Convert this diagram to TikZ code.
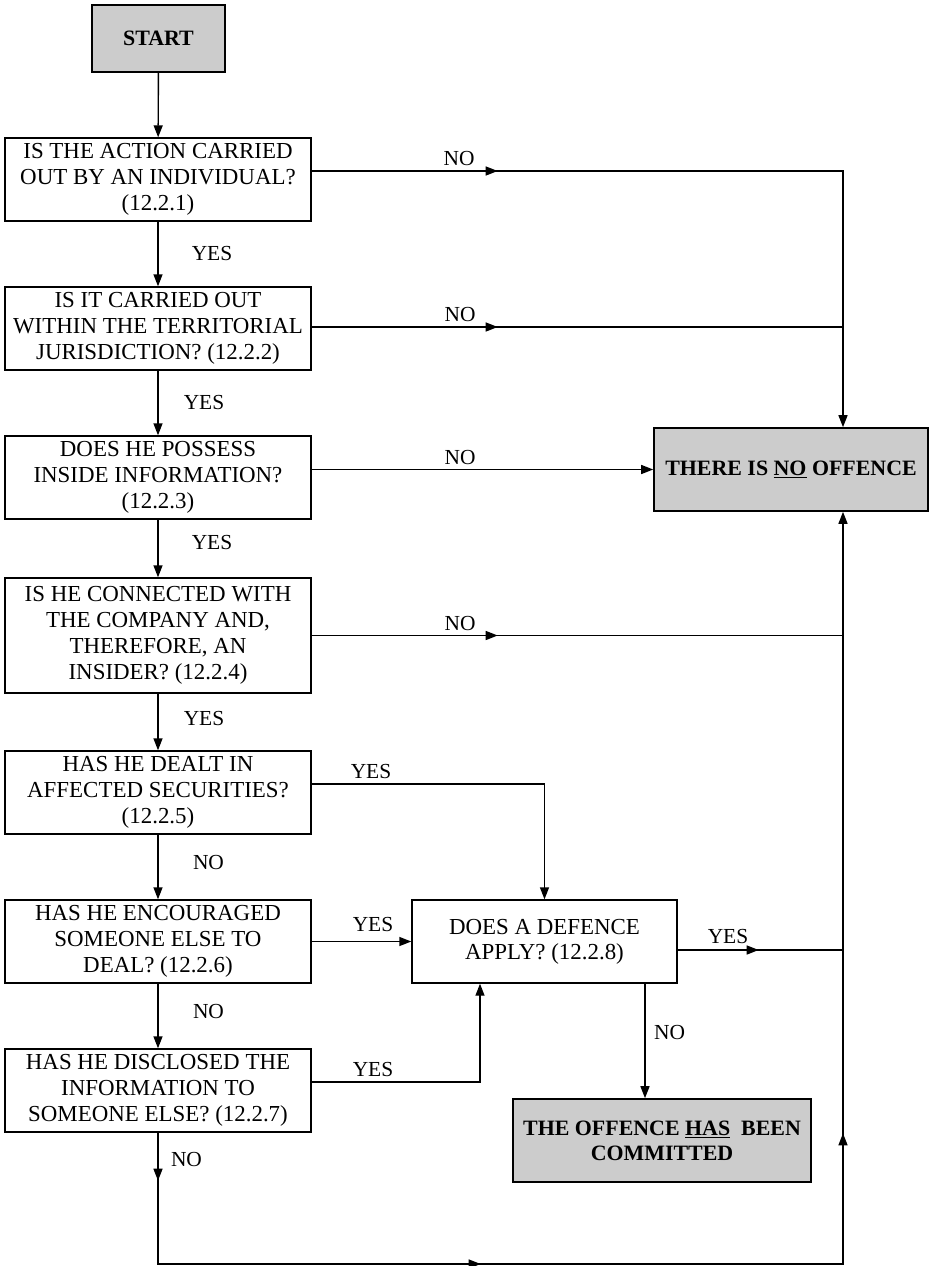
\documentclass[tikz,border=0pt]{standalone}
\usepackage{fontspec}
\setmainfont{Liberation Serif}
\usetikzlibrary{arrows.meta,decorations.markings,calc}

\tikzset{
  >={Triangle[length=12bp,width=9bp]},
  qbox/.style={draw, line width=1.4bp, minimum width=306bp, minimum height=83bp,
    align=center, inner sep=2bp, font=\fontsize{23}{26}\selectfont},
  endbox/.style={draw, fill=gray!40, line width=1.6bp, minimum height=83bp,
    align=center, inner sep=2bp, font=\fontsize{22}{25}\selectfont\bfseries},
  wire/.style={line width=1.4bp},
  lbl/.style={font=\fontsize{21.5}{24}\selectfont, inner sep=0pt},
  midtip/.style={postaction={decorate},
    decoration={markings, mark=at position #1 with {\arrow{>}}}},
}

\begin{document}
\begin{tikzpicture}[x=1bp, y=-1bp]
\useasboundingbox (0,0) rectangle (931,1266);

% ---- decision boxes ----
\node[endbox, minimum width=133bp, minimum height=67bp] (start) at (158.5,38.5) {START};
\node[qbox] (q1) at (158,179.5) {IS THE ACTION CARRIED\\OUT BY AN INDIVIDUAL?\\(12.2.1)};
\node[qbox] (q2) at (158,328.5) {IS IT CARRIED OUT\\WITHIN THE TERRITORIAL\\JURISDICTION? (12.2.2)};
\node[qbox] (q3) at (158,477.5) {DOES HE POSSESS\\INSIDE INFORMATION?\\(12.2.3)};
\node[qbox, minimum height=115bp] (q4) at (158,635.5) {IS HE CONNECTED WITH\\THE COMPANY AND,\\THEREFORE, AN\\INSIDER? (12.2.4)};
\node[qbox] (q5) at (158,792.5) {HAS HE DEALT IN\\AFFECTED SECURITIES?\\(12.2.5)};
\node[qbox] (q6) at (158,941.5) {HAS HE ENCOURAGED\\SOMEONE ELSE TO\\DEAL? (12.2.6)};
\node[qbox] (q7) at (158,1090.5) {HAS HE DISCLOSED THE\\INFORMATION TO\\SOMEONE ELSE? (12.2.7)};
\node[qbox, minimum width=265bp, font=\fontsize{23}{25}\selectfont] (def) at (544.5,941.5) {DOES A DEFENCE\\APPLY? (12.2.8)};

% ---- outcomes ----
\node[endbox, minimum width=274bp] (nooff) at (791,469.5) {THERE IS \underline{NO} OFFENCE};
\node[endbox, minimum width=298bp] (guilty) at (662,1140.5) {THE OFFENCE \underline{HAS}\ \ BEEN\\COMMITTED};

% ---- helper coordinates for the routing ----
\coordinate (rail) at (843,0);
\coordinate (y1) at (0,171);
\coordinate (y2) at (0,327);
\coordinate (y5) at (0,784);
\coordinate (y7) at (0,1082);
\coordinate (y8) at (0,950);
\coordinate (ybot) at (0,1264);
\coordinate (x7) at (480,0);
\coordinate (xno) at (645,0);

% ---- main YES / NO chain ----
\draw[wire,->] (start) -- (q1);
\draw[wire,->] (q1) -- (q2);
\draw[wire,->] (q2) -- (q3);
\draw[wire,->] (q3) -- (q4);
\draw[wire,->] (q4) -- (q5);
\draw[wire,->] (q5) -- (q6);
\draw[wire,->] (q6) -- (q7);

\node[lbl] (yes1) at (212,254) {YES};
\node[lbl] (yes2) at (204,403) {YES};
\node[lbl] (yes3) at (212,543) {YES};
\node[lbl] (yes4) at (204,718.5) {YES};
\node[lbl] (no5) at (208.5,862.5) {NO};
\node[lbl] (no6) at (208.5,1011.5) {NO};

% ---- NO branches to the right rail ----
\draw[wire, midtip=186bp, ->] (q1.east |- y1) -- (rail |- y1) -- (rail |- nooff.north);
\draw[wire, midtip=186bp] (q2.east |- y2) -- (rail |- y2);
\draw[wire, ->] (nooff.west -| q3.east) -- (nooff.west);
\draw[wire, midtip=186bp] (q4.east) -- (rail |- q4.east);

\node[lbl] (no1) at (459,159) {NO};
\node[lbl] (no2) at (460,315) {NO};
\node[lbl] (no3) at (460,458) {NO};
\node[lbl] (no4) at (460,624) {NO};

% ---- YES branches into the defence box ----
\draw[wire, ->] (q5.east |- y5) -| (def.north);
\draw[wire, ->] (q6.east) -- (def.west);
\draw[wire, ->] (q7.east |- y7) -| (x7 |- def.south);

\node[lbl] (yes5) at (371,772) {YES};
\node[lbl] (yes6) at (373,924.5) {YES};
\node[lbl] (yes7) at (373,1069.5) {YES};

% ---- defence outcomes ----
\draw[wire, midtip=81bp] (def.east |- y8) -- (rail |- y8);
\draw[wire, ->] (xno |- def.south) -- (xno |- guilty.north);
\node[lbl] (yes8) at (728,936.5) {YES};
\node[lbl] (no8) at (669.5,1032.5) {NO};

% ---- final NO: round the bottom and up to the outcome ----
\draw[wire, ->, postaction={decorate},
  decoration={markings,
    mark=at position 48bp with {\arrow{>}},
    mark=at position 454bp with {\arrow{>}},
    mark=at position 947bp with {\arrow{>}}}]
  (q7.south) -- (q7.south |- ybot) -- (rail |- ybot) -- (rail |- nooff.south);
\node[lbl] (no7) at (186.5,1159) {NO};
\end{tikzpicture}
\end{document}
